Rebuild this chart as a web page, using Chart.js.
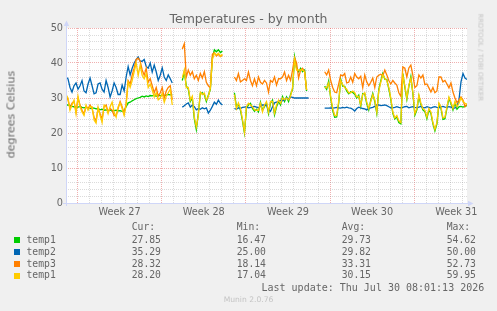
<!DOCTYPE html>
<html>
<head>
<meta charset="utf-8">
<script src="https://cdn.jsdelivr.net/npm/chart.js@4.4.1/dist/chart.umd.min.js"></script>
<style>
  html, body { margin: 0; padding: 0; background: #f0f0f0; }
  #wrap { position: relative; width: 497px; height: 311px; overflow: hidden; }
  canvas { position: absolute; left: 0; top: 0; }
  .t { position: absolute; white-space: pre; line-height: 1; color: #666; }
  .mono { font-family: "DejaVu Sans Mono", monospace; font-size: 9.72px; }
  .sans { font-family: "DejaVu Sans", sans-serif; }
  .sq { position: absolute; width: 6px; height: 6px; }
</style>
</head>
<body>
<div id="wrap">
  <canvas id="chart" width="497" height="311"></canvas>
  <div class="t sans" style="left:0;width:497px;text-align:center;top:13.4px;font-size:12.5px;">Temperatures - by month</div>
  <div class="t sans" style="left:-48.8px;top:109px;width:120px;height:11.1px;text-align:center;font-size:11.1px;transform:rotate(-90deg);">degrees Celsius</div>
  <div class="t sans" style="left:430px;top:54.4px;width:100px;height:6.8px;text-align:center;font-size:6.8px;color:#c4c4c4;transform:rotate(90deg);">RRDTOOL / TOBI OETIKER</div>
  <div id="legend"></div>
  <div class="t mono" style="left:261.5px;top:282.9px;font-size:10px;">Last update: Thu Jul 30 08:01:13 2026</div>
  <div class="t sans" style="left:0;width:497px;text-align:center;top:296.4px;font-size:7.6px;color:#c4c4c4;">Munin 2.0.76</div>
</div>
<script>
// samples every 4 hours, null = no data
const temp1 = [
  28,28,27.8,27.6,27.5,27.3,27.4,27.6,27.3,27.2, 27.4,27.2,27,27.2,27.1,26.9,27,26.6,26.8,26.5,
  26.6,26.4,26.6,26.3,26.4,26.5,26.3,26.4,26.2,26.4, 27.5,28.6,28.8,29.2,29.5,29.8,30,30.2,30.5,30.3,
  30.6,30.4,30.7,30.6,30.8,30.5,30.8,30.6,30.9,30.7, 30.8,31,30.9,31,
  null,null,null,null,
  35,37.5,33.5,32.5,29,30,24,21,25.5,31.3, 31.5,31,29,30.8,32.5,41.5,43.8,43.2,43.8,43, 43.4,
  null,null,null,null,null,
  31.5,27.5,28.2,26.5,23.5,20,27,28,28.5,27, 26.2,26.8,26,28.8,26.5,27.5,28.5,25.5,28.5,29.4,
  25.2,27.5,29,28,30.4,29,30.3,29,31,32.5, 41.8,38.5,37.5,38.5,37.5,38,32,
  null,null,null,null,null,null,null,null,
  33.4,32.5,34.8,30,26.5,24.5,24.6,28.5,35.4,33.4, 33.3,32,31.2,31.8,31.6,31.1,30,30.8,27.6,31.3,
  31.2,28.4,26.6,29.3,31.3,29,25.6,32.4,34.9,37, 35.4,35.3,32.6,29.6,25.6,24,24.6,23,22.6,37,
  33.1,29.6,33.3,36.1,31.3,25.1,26.6,30.5,28.1,26.6, 26.1,24.1,26.6,25.6,22.6,20.6,22.6,28.2,27.1,23.9,
  24.1,27.1,29.9,28.4,26.6,28.6,26.8,27.5,27.6,27.4, 27.6,27.85
];
const temp2 = [
  36,35.5,33,31.7,33.5,34.3,32.5,33.5,35,32, 31.5,34,35.7,33.5,31.2,31.5,34,34.3,32.5,31.7,
  35,33,30.3,32,34.3,33,31,31,33.7,32, 36,39,36.6,38.5,40,41,41.7,40.5,40.5,41,
  39,38.5,40,37.4,39.4,37.5,35,36.5,38.6,36, 35,36.6,35.5,34.3,
  null,null,null,null,
  27.4,27.8,28.3,28.6,27.4,28,27.5,26.6,27,26.8, 27.2,26.9,27.2,25.7,26.5,27.6,28.8,28.2,29.4,28.5, 28,
  null,null,null,null,null,
  27,26.8,27.2,27,27.3,27.4,27.5,27.2,27.3,27.5, 27.6,27.4,27.2,27.6,28,28,28,26.6,26.2,27.5,
  28.6,28.8,29,29.4,29.2,29.5,30,29.8,30.3,30.2, 30,30,30,30,30,30,30,30,
  null,null,null,null,null,null,null,
  27.1,27.1,27.1,27.2,27.1,27.2,27.3,27.2,27.1,27.3, 27.2,27.4,27.2,27.1,26.8,26.3,27,27.4,27.2,27,
  26.9,26.6,27,27.2,27.3,27.6,28,28,27.8,27.9, 28,27.8,27.5,27.2,27.2,27.3,27.5,27.3,27.2,27.3,
  27.5,27.6,27.2,27.4,27.5,27.3,27.2,27.4,27.6,27.3, 27.2,27.5,27.3,27.1,27.4,27.5,27.3,27.2,27.5,27.6,
  27.4,27.3,27.5,27.4,27.2,27.1,27.6,29.5,34.6,37, 35.7,35.3
];
const temp3 = [
  30.5,29.5,27,28.5,29,26,30,28,26.5,25.5, 27.5,27,28,27,24.5,23.5,27,25.5,24,27.5,
  28,26,27,26.5,25,25,27,29,27.5,25.5, 28.5,35,34,36.5,38.5,41,41.4,40.5,38,36.5,
  38.5,34.5,35.5,33.5,31.5,33,30.5,31.5,33,30, 32,33,33.5,29.5,
  null,null,null,null,
  44,45.5,36,38,36.5,37.5,35.5,36.5,35,37, 35.7,37.5,34.5,33.5,32.9,42.5,43,42,42.5,41.8, 42.2,
  null,null,null,null,null,
  36,35,37,34.6,35,35.5,35,37.4,35,33.5, 35.5,33.5,36,34.5,34,35,34.3,31.7,35,34.5,
  36,33.7,35.5,35.5,36,37.4,35,36.5,35,38, 41.5,40,35.7,38,38.5,37.5,32.3,
  null,null,null,null,null,null,null,null,
  37.5,36.6,38,35,33,31.7,31.5,34,36.6,36.3, 37,34.3,34.5,36,34.5,37,36,35.5,36.2,33,
  36.6,34.6,33.5,34.5,35.7,33,36,36.5,36.8,36.3, 38,36.6,35,34,35,34.3,33.7,31.5,30.5,38.9,
  38.5,36,38.6,39.4,36.5,33,33.5,36.6,35.7,36.6, 33.8,34,32.9,31.7,33,31.5,32,36,36,34.6,
  35,34,32.9,34.3,31.7,30,28.7,29.4,30.3,29.4, 27.5,28.3
];
const temp1b = [
  31,30,26.5,28,29.4,25.5,30.5,27.5,26,25, 28,26.5,27.5,27.5,23.7,22.8,27.4,25,23,28,
  27.5,25.5,27.5,28.8,26,24.5,27.5,28.6,27,25, 28,34.6,33,35,37.5,40,36.5,39.4,36.5,35.5,
  37,33,34,32.3,30.3,31.5,29.5,30,31.4,28.8, 30.5,31.5,32.5,28,
  null,null,null,null,
  35.7,38,33,33,29.4,30.5,24.6,21.7,25,31.7, 31,31.4,29.4,30.5,32.8,41,42.8,42.3,42.8,42, 42.5,
  null,null,null,null,null,
  31,27,28.6,27,24,20.3,27.5,28.5,28,27.5, 26.6,26.5,26.5,28.5,26,28,29,26,29,29,
  25.7,28,29.4,28.5,30,29.5,30,29.5,30.5,33, 41,38,38,38,38,37.5,32.3,
  null,null,null,null,null,null,null,null,
  33,32.9,34.3,30.5,27,25,25,29,35,33.8, 33,32.5,31.5,31.5,32,31.5,30.3,30.5,28,31,
  31.5,28.8,27,29,31,29.5,26,32,34.5,36.6, 35.7,35,33,30,26,24.3,25,23.5,23,36.6,
  33.5,30,33.7,35.7,31.7,25.5,27,30.9,28.5,27, 26.5,24.5,27,26,23,21,23,28.6,27.5,24.3,
  24.5,27.5,30.3,28.8,27,29,27.5,28.5,30,29, 28.5,28.2
];

const seriesNames = ["temp1", "temp2", "temp3", "temp1"];
const seriesColors = ["#00cc00", "#0066b3", "#ff8000", "#ffcc00"];
const curVals = ["27.85", "35.29", "28.32", "28.20"];
const minVals = ["16.47", "25.00", "18.14", "17.04"];
const avgVals = ["29.73", "29.82", "33.31", "30.15"];
const maxVals = ["54.62", "50.00", "52.73", "59.95"];
const statHeads = ["Cur:", "Min:", "Avg:", "Max:"];
const weekLabels = ["Week 27", "Week 28", "Week 29", "Week 30", "Week 31"];

const stepDays = 4 / 24;
const firstWeekStart = 0.95; // day offset of the first week boundary
const spanDays = (temp1.length - 1) * stepDays;
const yTicks = [0, 2, 4, 6, 8, 10, 12, 14, 16, 18, 20, 22, 24, 26, 28, 30, 32, 34, 36, 38, 40, 42, 44, 46, 48, 50];

const minorGrid = "rgba(143,143,143,0.32)";
const majorGrid = "rgba(222,79,79,0.45)";
const axisColor = "#cfd6f8";

// legend below the graph
const legend = document.getElementById("legend");
const colX = [131.7, 236.7, 341.7, 446.7];
function addText(txt, x, y) {
  const d = document.createElement("div");
  d.className = "t mono";
  d.style.left = x + "px";
  d.style.top = y + "px";
  d.textContent = txt;
  legend.appendChild(d);
}
statHeads.forEach((h, c) => addText(h, colX[c], 222.2));
seriesNames.forEach((name, r) => {
  const top = 234.9 + r * 11.85;
  const sq = document.createElement("div");
  sq.className = "sq";
  sq.style.left = "14px";
  sq.style.top = (top + 2.1) + "px";
  sq.style.background = seriesColors[r];
  legend.appendChild(sq);
  addText(name, 26.5, top);
  [curVals, minVals, avgVals, maxVals].forEach((vals, c) => addText(vals[r], colX[c], top));
});

function toPoints(arr) {
  return arr.map((v, i) => ({ x: i * stepDays, y: v }));
}

const muninBits = {
  id: "muninBits",
  beforeDraw(chart) {
    const { ctx, chartArea: a } = chart;
    ctx.save();
    ctx.fillStyle = "#ffffff";
    ctx.fillRect(a.left, a.top, a.right - a.left, a.bottom - a.top);
    ctx.restore();
  },
  afterDatasetsDraw(chart) {
    const { ctx, chartArea: a } = chart;
    const bx = a.left + 0.5, by = a.bottom + 0.5;
    ctx.save();
    ctx.strokeStyle = axisColor;
    ctx.fillStyle = axisColor;
    ctx.lineWidth = 1;
    ctx.beginPath();
    ctx.moveTo(a.left - 3, by);
    ctx.lineTo(a.right + 2, by);
    ctx.moveTo(bx, a.bottom + 3);
    ctx.lineTo(bx, a.top - 3);
    ctx.stroke();
    ctx.beginPath();
    ctx.moveTo(a.right + 1, by - 2.7);
    ctx.lineTo(a.right + 6.5, by);
    ctx.lineTo(a.right + 1, by + 2.7);
    ctx.closePath();
    ctx.fill();
    ctx.beginPath();
    ctx.moveTo(bx - 2.7, a.top - 2);
    ctx.lineTo(bx, a.top - 7.5);
    ctx.lineTo(bx + 2.7, a.top - 2);
    ctx.closePath();
    ctx.fill();
    ctx.restore();
  }
};

Chart.defaults.font.family = "DejaVu Sans";

new Chart(document.getElementById("chart").getContext("2d"), {
  type: "line",
  data: {
    datasets: [
      { label: seriesNames[0], data: toPoints(temp1), borderColor: seriesColors[0], order: 3 },
      { label: seriesNames[1], data: toPoints(temp2), borderColor: seriesColors[1], order: 2 },
      { label: seriesNames[2], data: toPoints(temp3), borderColor: seriesColors[2], order: 1 },
      { label: seriesNames[3], data: toPoints(temp1b), borderColor: seriesColors[3], order: 0 },
    ],
  },
  options: {
    responsive: false,
    animation: false,
    devicePixelRatio: 1,
    layout: { padding: { top: 28, right: 30, left: 0, bottom: 0 } },
    plugins: { legend: { display: false }, tooltip: { enabled: false } },
    elements: {
      point: { radius: 0 },
      line: { borderWidth: 1.3, tension: 0, fill: false },
    },
    scales: {
      x: {
        type: "linear",
        min: 0,
        max: spanDays,
        afterFit(s) { s.height = 108; },
        afterBuildTicks(s) {
          const t = [];
          for (let j = 0; firstWeekStart + j * 0.5 <= spanDays; j++) {
            t.push({ value: firstWeekStart + j * 0.5 });
          }
          s.ticks = t;
        },
        grid: {
          drawTicks: false,
          lineWidth: 1,
          color: (c) => (c.index % 14 === 0 ? majorGrid : c.index % 2 === 0 ? minorGrid : "rgba(0,0,0,0)"),
        },
        border: { display: false, dash: [1, 1] },
        ticks: {
          autoSkip: false,
          maxRotation: 0,
          padding: 4,
          color: "#666",
          font: { size: 9.72 },
          callback: (v, i) => (i % 14 === 7 ? weekLabels[(i - 7) / 14] : ""),
        },
      },
      y: {
        min: 0,
        max: 50,
        afterFit(s) { s.width = 66; },
        afterBuildTicks(s) { s.ticks = yTicks.map((v) => ({ value: v })); },
        grid: {
          drawTicks: false,
          lineWidth: 1,
          color: (c) => (c.tick && c.tick.value % 10 === 0 ? majorGrid : minorGrid),
        },
        border: { display: false, dash: [1, 1] },
        ticks: {
          autoSkip: false,
          padding: 3,
          color: "#666",
          font: { size: 9.72 },
          callback: (v) => (v % 10 === 0 ? v : ""),
        },
      },
    },
  },
  plugins: [muninBits],
});
</script>
</body>
</html>
